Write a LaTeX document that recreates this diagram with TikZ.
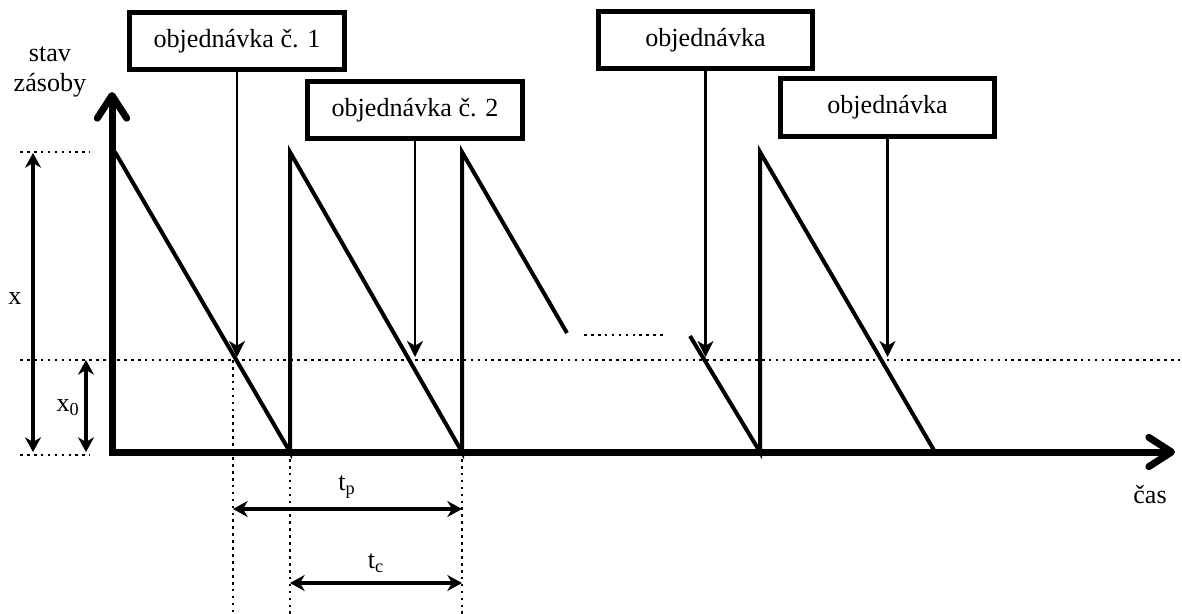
\documentclass[tikz,border=0pt]{standalone}
\usepackage{fontspec}
\setmainfont{Liberation Serif}
\usetikzlibrary{arrows.meta}

\tikzset{
  obj/.style={draw, line width=3.75pt, minimum width=161pt, minimum height=43pt, inner sep=0pt},
  saw/.style={line width=3pt},
  dots/.style={line width=2.2pt, dash pattern={on 2pt off 3.2pt}},
  order/.style={line width=1.6pt, -{Stealth[length=12pt,width=12pt,inset=3.5pt]}},
  dim/.style={line width=2.4pt, {Stealth[length=11pt,width=12pt,inset=3.5pt]}-{Stealth[length=11pt,width=12pt,inset=3.5pt]}},
  axis/.style={line width=5.25pt, {Straight Barb[length=17pt,width=22pt,round]}-{Straight Barb[length=17pt,width=22pt,round]}}
}

\begin{document}
\begin{tikzpicture}[x=0.75pt,y=0.75pt,yscale=-1,xscale=1,font=\fontsize{19.6}{23}\selectfont]
\useasboundingbox (0,0) rectangle (1182,614);

%Coordinates
\coordinate (ytip) at (112,92);
\coordinate (o) at (112,452);
\coordinate (xtip) at (1175,452);

%Dotted reference lines
\draw [dots] (20,152) -- (90,152);
\draw [dots] (20,360) -- (1180,360);
\draw [dots] (20,455) -- (90,455);
\draw [dots] (233,360) -- (233,614);
\draw [dots] (290,452) -- (290,614);
\draw [dots] (462,452) -- (462,614);
\draw [dots] (584,335) -- (667,335);

%Sawtooth
\draw [saw] (115,152) -- (290,452) -- (290,152) -- (462,452) -- (462,152) -- (567,333);
\draw [saw] (690,336) -- (760,452) -- (760,152) -- (935,452);

%Axes
\draw [axis] (ytip) -- (o) -- (xtip);

%Order boxes
\node [obj] (b1) at (237,41) {objednávka č. 1};
\node [obj] (b2) at (415,110) {objednávka č. 2};
\node [obj] (b3) at (705.5,40) {objednávka};
\node [obj] (b4) at (887.5,107.5) {objednávka};

\coordinate (p1) at (237,357);
\coordinate (p2) at (415,357);
\coordinate (p3) at (705.5,357);
\coordinate (p4) at (887.5,357);
\draw [order] (b1) -- (p1);
\draw [order] (b2) -- (p2);
\draw [order] (b3) -- (p3);
\draw [order] (b4) -- (p4);

%Dimension arrows
\coordinate (xa) at (33,153);
\coordinate (xb) at (33,452);
\coordinate (x0a) at (86,360);
\coordinate (x0b) at (86,452);
\coordinate (tpa) at (233,509);
\coordinate (tpb) at (462,509);
\coordinate (tca) at (290,583);
\coordinate (tcb) at (462,583);
\draw [dim] (xa) -- (xb);
\draw [dim] (x0a) -- (x0b);
\draw [dim] (tpa) -- (tpb);
\draw [dim] (tca) -- (tcb);

% Text Node
\node [align=center] (stav) at (50,72) {stav\\zásoby};
% Text Node
\node (cas) at (1150,495) {čas};
% Text Node
\node (xl) at (15,298) {x};
% Text Node
\node (x0l) at (68,408) {x\textsubscript{0}};
% Text Node
\node (tpl) at (347,487) {t\textsubscript{p}};
% Text Node
\node (tcl) at (376,563) {t\textsubscript{c}};

\end{tikzpicture}
\end{document}
